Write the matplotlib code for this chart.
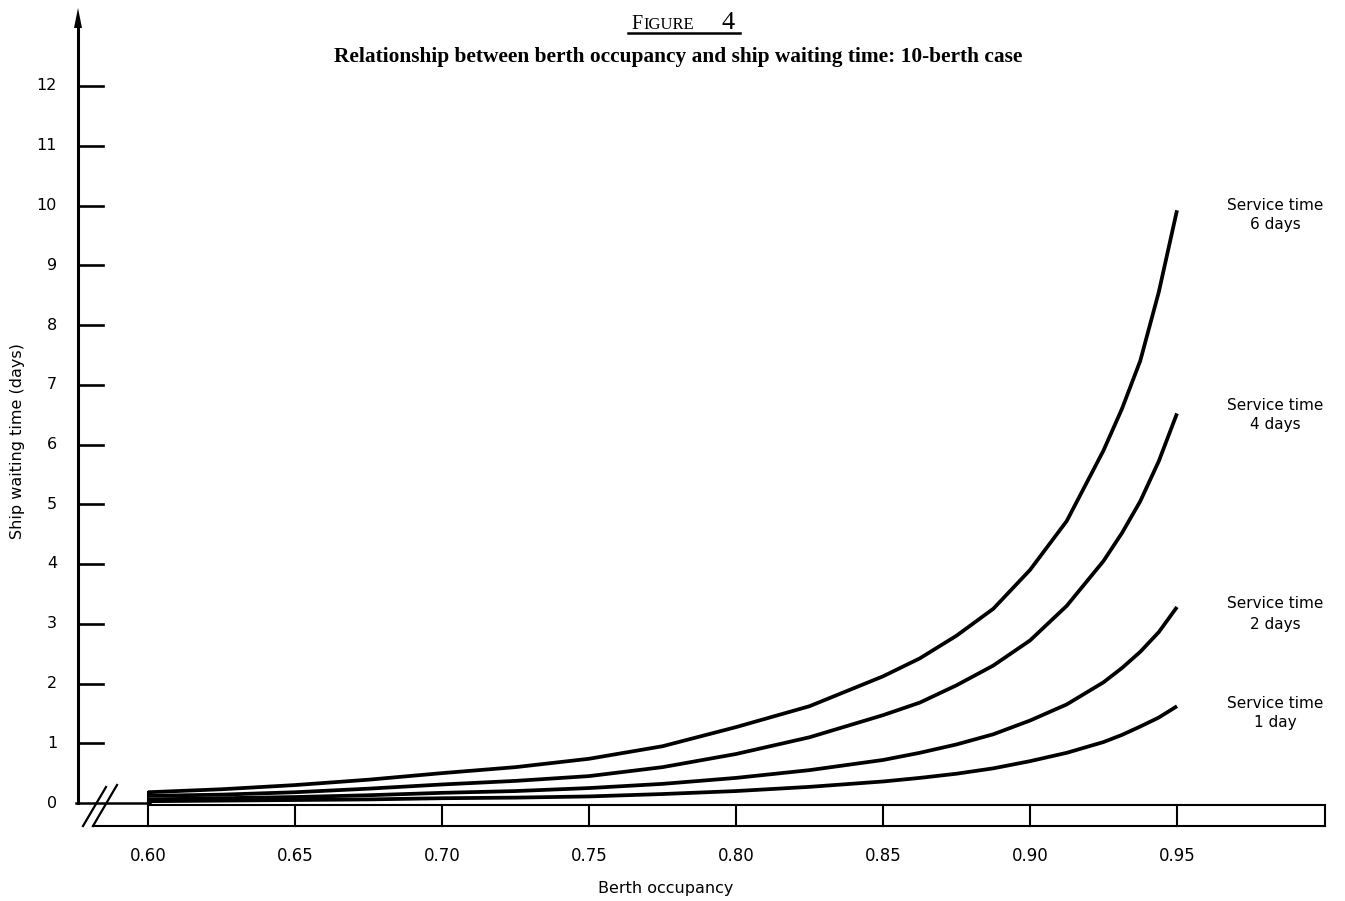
import matplotlib
matplotlib.use("Agg")
import matplotlib.pyplot as plt

# ---------------- data ----------------
occupancy = [0.60, 0.625, 0.65, 0.675, 0.70, 0.725, 0.75, 0.775, 0.80, 0.825,
             0.85, 0.8625, 0.875, 0.8875, 0.90, 0.9125, 0.925, 0.9313, 0.9375,
             0.9438, 0.95]
wait_6d = [0.18, 0.23, 0.30, 0.39, 0.50, 0.60, 0.74, 0.95, 1.27, 1.62,
           2.12, 2.42, 2.80, 3.25, 3.90, 4.72, 5.90, 6.60, 7.40, 8.55, 9.92]
wait_4d = [0.12, 0.14, 0.18, 0.24, 0.31, 0.37, 0.45, 0.60, 0.82, 1.10,
           1.47, 1.68, 1.97, 2.30, 2.72, 3.30, 4.05, 4.52, 5.05, 5.72, 6.52]
wait_2d = [0.06, 0.08, 0.10, 0.13, 0.17, 0.20, 0.25, 0.32, 0.42, 0.55,
           0.72, 0.84, 0.98, 1.15, 1.38, 1.65, 2.02, 2.26, 2.53, 2.86, 3.28]
wait_1d = [0.03, 0.04, 0.05, 0.06, 0.08, 0.09, 0.11, 0.15, 0.20, 0.27,
           0.36, 0.42, 0.49, 0.58, 0.70, 0.84, 1.02, 1.14, 1.28, 1.43, 1.62]
series = [wait_6d, wait_4d, wait_2d, wait_1d]
series_labels = ["Service time\n6 days", "Service time\n4 days",
                 "Service time\n2 days", "Service time\n1 day"]

x_ticks = [0.60, 0.65, 0.70, 0.75, 0.80, 0.85, 0.90, 0.95]
x_ticklabels = ["0.60", "0.65", "0.70", "0.75", "0.80", "0.85", "0.90", "0.95"]
y_ticks = list(range(0, 13))
y_ticklabels = [str(v) for v in y_ticks]

title = "Relationship between berth occupancy and ship waiting time: 10-berth case"
x_label = "Berth occupancy"
y_label = "Ship waiting time (days)"

# ---------------- layout (pixel frame of the 1345x901 page) ----------------
W, H = 1345, 901
X0_PIX, X_STEP_PIX = 148.0, 147.0      # 0.60 position, pixels per 0.05
Y0_PIX, Y_STEP_PIX = 803.0, 59.75      # y=0 position, pixels per day


def dx(p):
    return 0.60 + (p - X0_PIX) / (X_STEP_PIX / 0.05)


def dy(p):
    return (Y0_PIX - p) / Y_STEP_PIX


fig = plt.figure(figsize=(W / 100, H / 100), dpi=100)
ax = fig.add_axes([0, 0, 1, 1])
ax.set_xlim(dx(0), dx(W))
ax.set_ylim(dy(H), dy(0))
ax.axis("off")

sans = ["DejaVu Sans"]
serif = ["Liberation Serif", "DejaVu Serif"]
k = "black"

# curves
for ys in series:
    ax.plot(occupancy, ys, color=k, lw=2.7, solid_capstyle="butt",
            solid_joinstyle="round", zorder=3)

# curve labels
label_y_pix = [(205, 224), (406, 425), (603, 624), (703, 723)]
for lab, (y1, y2) in zip(series_labels, label_y_pix):
    l1, l2 = lab.split("\n")
    ax.text(dx(1275), dy(y1), l1, ha="center", va="center", fontsize=11, family=sans)
    ax.text(dx(1275), dy(y2), l2, ha="center", va="center", fontsize=11, family=sans)

# y axis line with arrow
ax.plot([dx(78), dx(78)], [0, dy(26)], color=k, lw=2.2, zorder=2)
ax.fill([dx(74), dx(82), dx(78)], [dy(28), dy(28), dy(8)], color=k, lw=0)
# y ticks (inward to the right)
for v, lab in zip(y_ticks, y_ticklabels):
    if v > 0:
        ax.plot([dx(78), dx(103)], [v, v], color=k, lw=1.9)
    ax.text(dx(57), v, lab, ha="right", va="center", fontsize=11.5, family=sans)

# base line at y = 0 from axis to the bar, with break marks
ax.plot([dx(76), dx(150)], [0, 0], color=k, lw=1.8)
ax.plot([dx(83), dx(106)], [dy(826), dy(787)], color=k, lw=1.6)
ax.plot([dx(93), dx(117)], [dy(826), dy(785)], color=k, lw=1.6)

# x axis scale bar
bar_top, bar_bot = dy(805), dy(826)
ax.plot([dx(148), dx(1325)], [bar_top, bar_top], color=k, lw=1.5)
ax.plot([dx(93), dx(1325)], [bar_bot, bar_bot], color=k, lw=1.5)
ax.plot([dx(1325), dx(1325)], [bar_top, bar_bot], color=k, lw=1.5)
for xt, lab in zip(x_ticks, x_ticklabels):
    ax.plot([xt, xt], [bar_top if xt > 0.6 else dy(792), bar_bot], color=k, lw=1.5)
    ax.text(xt, dy(856), lab, ha="center", va="center", fontsize=12, family=sans)

# axis titles
ax.text(dx(666), dy(889), x_label, ha="center", va="center", fontsize=11.5, family=sans)
ax.text(dx(18), dy(441), y_label, ha="center", va="center", rotation=90,
        fontsize=11.5, family=sans)

# figure heading
ax.text(dx(678), dy(57), title, ha="center", va="center", fontsize=15.4,
        fontweight="bold", family=serif)
ax.text(dx(631), dy(29), "F", ha="left", va="baseline", fontsize=14.5, family=serif)
ax.text(dx(643), dy(29), "IGURE", ha="left", va="baseline", fontsize=12, family=serif)
ax.text(dx(721), dy(29), "4", ha="left", va="baseline", fontsize=19, family=serif,
        fontweight="light")
ax.plot([dx(628), dx(740)], [dy(33), dy(33)], color=k, lw=1.8)

fig.savefig("out.png", dpi=100)
